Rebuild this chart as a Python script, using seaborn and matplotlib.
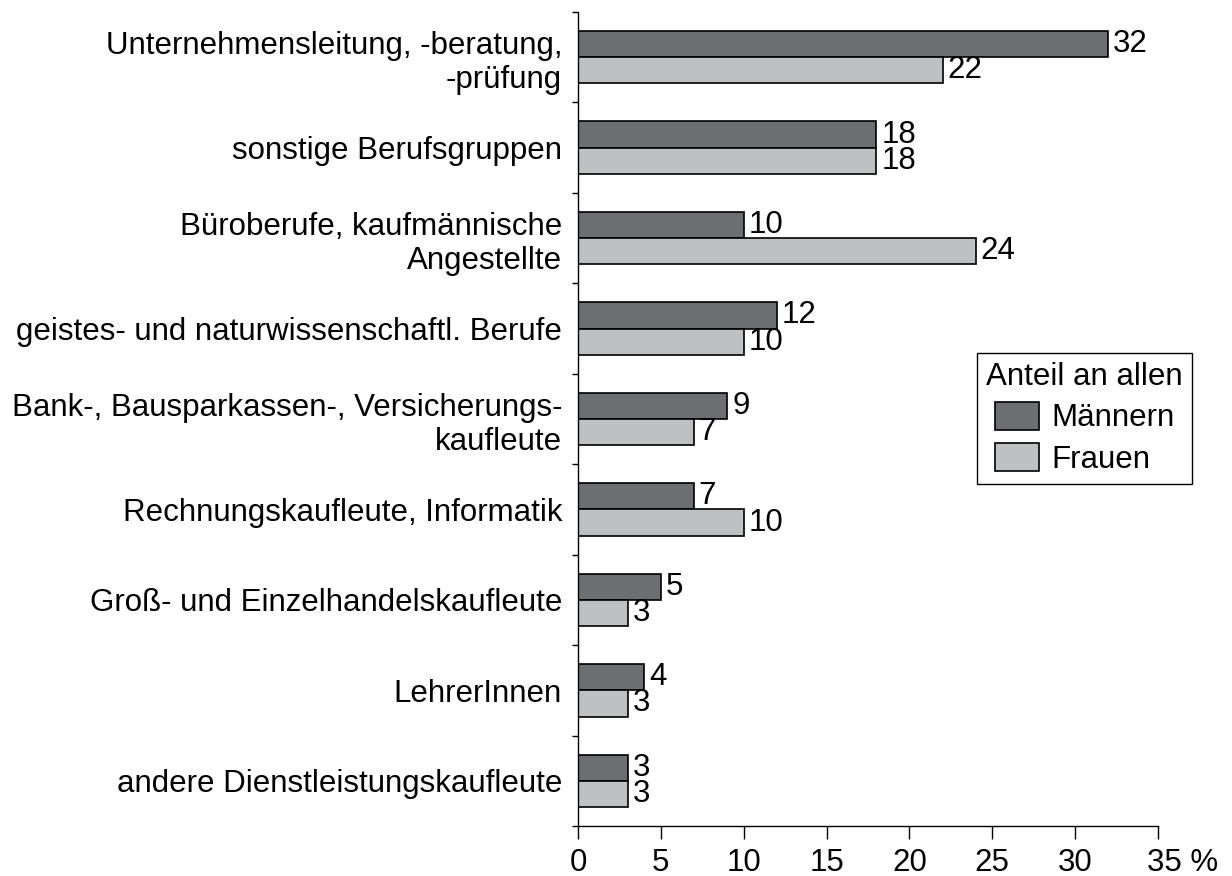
import pandas as pd
import matplotlib
matplotlib.use("Agg")
import matplotlib.pyplot as plt
import matplotlib.transforms as mtransforms
import seaborn as sns
import numpy as np

# ---- data ----
categories = [
    "Unternehmensleitung, -beratung,\n-prüfung",
    "sonstige Berufsgruppen",
    "Büroberufe, kaufmännische\nAngestellte",
    "geistes- und naturwissenschaftl. Berufe",
    "Bank-, Bausparkassen-, Versicherungs-\nkaufleute",
    "Rechnungskaufleute, Informatik",
    "Groß- und Einzelhandelskaufleute",
    "LehrerInnen",
    "andere Dienstleistungskaufleute",
]
maenner = [32, 18, 10, 12, 9, 7, 5, 4, 3]
frauen = [22, 18, 24, 10, 7, 10, 3, 3, 3]
groups = ["Männern", "Frauen"]
x_ticks = [0, 5, 10, 15, 20, 25, 30, 35]
x_ticklabels = ["0", "5", "10", "15", "20", "25", "30", "35 %"]
legend_title = "Anteil an allen"

df = pd.DataFrame({
    "Beruf": categories * 2,
    "Anteil": maenner + frauen,
    "Gruppe": [groups[0]] * len(categories) + [groups[1]] * len(categories),
})

sns.set_style("white")
plt.rcParams["font.family"] = ["Liberation Sans", "DejaVu Sans"]
plt.rcParams["text.color"] = "black"
plt.rcParams["xtick.color"] = "black"
plt.rcParams["ytick.color"] = "black"

FS = 22.5

fig = plt.figure(figsize=(12.32, 8.76), dpi=100)
ax = fig.add_axes([578 / 1232, 1 - 826 / 876, 580 / 1232, 814 / 876])

palette = {"Männern": "#6d6e71", "Frauen": "#bfc0c2"}
sns.barplot(data=df, y="Beruf", x="Anteil", hue="Gruppe", order=categories,
            hue_order=groups, palette=palette, orient="h", width=0.58,
            errorbar=None, edgecolor="black", linewidth=1.2, saturation=1,
            ax=ax)

for cont in ax.containers:
    ax.bar_label(cont, fmt="%d", padding=3.5, fontsize=FS, color="black")

ax.set_xlim(0, 35)
ax.set_ylim(len(categories) - 0.5, -0.5)
ax.set_xticks(x_ticks)
ax.set_xticklabels(x_ticklabels, fontsize=FS)
ax.set_yticks(range(len(categories)))
ax.set_yticklabels(categories, fontsize=FS, ha="right")
ax.set_yticks(np.arange(-0.5, len(categories), 1.0), minor=True)
ax.tick_params(axis="y", which="major", left=True, length=0, pad=11.5, labelcolor="black")
ax.tick_params(axis="y", which="minor", left=True, length=4, width=1, direction="out", color="black")
ax.tick_params(axis="x", which="major", bottom=True, length=9, width=1, direction="out",
               color="black", pad=7, labelcolor="black")

# last label: number roughly on the tick, "%" trailing to the right
last = ax.get_xticklabels()[-1]
last.set_horizontalalignment("left")
last.set_transform(last.get_transform() + mtransforms.ScaledTranslation(-11 / 100, 0, fig.dpi_scale_trans))

ax.set_xlabel("")
ax.set_ylabel("")
for s in ["top", "right"]:
    ax.spines[s].set_visible(False)
for s in ["left", "bottom"]:
    ax.spines[s].set_color("black")
    ax.spines[s].set_linewidth(1)

ax.get_legend().remove()
handles = [plt.Rectangle((0, 0), 1, 1, facecolor=palette[g], edgecolor="black", linewidth=1.2)
           for g in groups]
leg = ax.legend(handles, groups, title=legend_title, loc="upper left",
                bbox_to_anchor=(977 / 1232, 1 - 353 / 876), bbox_transform=fig.transFigure,
                fontsize=FS, title_fontsize=FS, frameon=True, fancybox=False,
                edgecolor="black", framealpha=1, handlelength=1.4, handleheight=1.0,
                labelspacing=0.3, handletextpad=0.4, borderpad=0.3, borderaxespad=0)
leg.get_frame().set_linewidth(1)

fig.savefig("out.png", dpi=100)
